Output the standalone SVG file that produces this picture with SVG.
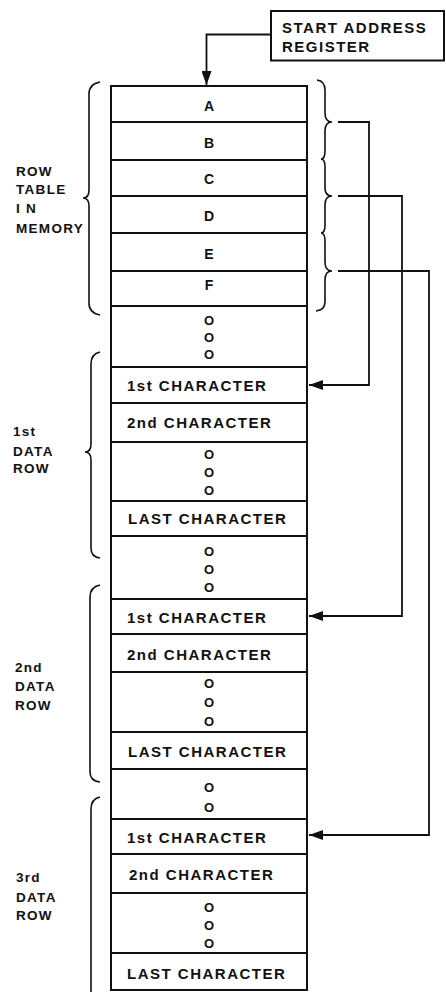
<svg xmlns="http://www.w3.org/2000/svg" width="446" height="992" viewBox="0 0 446 992">
<defs>
<style>
text{font-family:"Liberation Sans",Arial,sans-serif;font-weight:bold;fill:#111}
.cell{font-size:15px;letter-spacing:1.5px}
.mid{font-size:14px;text-anchor:middle}
.dot{font-size:13px;text-anchor:middle}
.lab{font-size:13.5px;letter-spacing:1.3px}
.tbl{fill:#fff;stroke:#111;stroke-width:2}
.sep{stroke:#111;stroke-width:2}
.br{fill:none;stroke:#111;stroke-width:1.6}
.con{fill:none;stroke:#111;stroke-width:1.8}
</style>
<marker id="ah" viewBox="0 0 14 10" refX="14" refY="5" markerWidth="15" markerHeight="10" markerUnits="userSpaceOnUse" orient="auto">
<path d="M0,0 L14,5 L0,10 Z" fill="#111"/>
</marker>
</defs>
<rect width="446" height="992" fill="#fff"/>

<g id="start-register">
<rect x="271" y="11" width="173" height="49.5" fill="#fff" stroke="#111" stroke-width="2"/>
<text class="cell" x="282" y="33">START ADDRESS</text>
<text class="cell" x="282" y="52">REGISTER</text>
</g>

<g id="memory-table">
<rect class="tbl" x="111" y="86" width="196" height="904"/>
<g class="sep">
<line x1="111" y1="122" x2="307" y2="122"/>
<line x1="111" y1="160" x2="307" y2="160"/>
<line x1="111" y1="196" x2="307" y2="196"/>
<line x1="111" y1="233" x2="307" y2="233"/>
<line x1="111" y1="271" x2="307" y2="271"/>
<line x1="111" y1="306" x2="307" y2="306"/>
<line x1="111" y1="367" x2="307" y2="367"/>
<line x1="111" y1="403" x2="307" y2="403"/>
<line x1="111" y1="442" x2="307" y2="442"/>
<line x1="111" y1="501" x2="307" y2="501"/>
<line x1="111" y1="536" x2="307" y2="536"/>
<line x1="111" y1="599" x2="307" y2="599"/>
<line x1="111" y1="634" x2="307" y2="634"/>
<line x1="111" y1="672" x2="307" y2="672"/>
<line x1="111" y1="732" x2="307" y2="732"/>
<line x1="111" y1="769" x2="307" y2="769"/>
<line x1="111" y1="819" x2="307" y2="819"/>
<line x1="111" y1="854" x2="307" y2="854"/>
<line x1="111" y1="893" x2="307" y2="893"/>
<line x1="111" y1="953" x2="307" y2="953"/>
</g>
</g>

<g id="row-table-entries">
<text class="mid" x="209" y="111">A</text>
<text class="mid" x="209" y="148">B</text>
<text class="mid" x="209" y="184">C</text>
<text class="mid" x="209" y="221">D</text>
<text class="mid" x="209" y="259">E</text>
<text class="mid" x="209" y="290">F</text>
<text class="dot" x="209" y="325">O</text>
<text class="dot" x="209" y="342">O</text>
<text class="dot" x="209" y="359">O</text>
</g>

<g id="data-row-1">
<text class="cell" x="127" y="391">1st CHARACTER</text>
<text class="cell" x="127" y="428">2nd CHARACTER</text>
<text class="dot" x="209" y="459">O</text>
<text class="dot" x="209" y="477">O</text>
<text class="dot" x="209" y="495">O</text>
<text class="cell" x="128" y="524">LAST CHARACTER</text>
<text class="dot" x="209" y="556">O</text>
<text class="dot" x="209" y="574">O</text>
<text class="dot" x="209" y="592">O</text>
</g>

<g id="data-row-2">
<text class="cell" x="127" y="623">1st CHARACTER</text>
<text class="cell" x="127" y="660">2nd CHARACTER</text>
<text class="dot" x="209" y="688">O</text>
<text class="dot" x="209" y="707">O</text>
<text class="dot" x="209" y="726">O</text>
<text class="cell" x="128" y="757">LAST CHARACTER</text>
<text class="dot" x="209" y="792">O</text>
<text class="dot" x="209" y="812">O</text>
</g>

<g id="data-row-3">
<text class="cell" x="127" y="843">1st CHARACTER</text>
<text class="cell" x="129" y="880">2nd CHARACTER</text>
<text class="dot" x="209" y="912">O</text>
<text class="dot" x="209" y="930">O</text>
<text class="dot" x="209" y="948">O</text>
<text class="cell" x="127" y="979">LAST CHARACTER</text>
</g>

<g id="label-row-table">
<path class="br" d="M100,82 Q89,84 89,94 V190 Q89,198 83,198 Q89,198 89,206 V303 Q89,313 100,315"/>
<text class="lab" x="16" y="176">ROW</text>
<text class="lab" x="16" y="194">TABLE</text>
<text class="lab" x="16" y="213">I N</text>
<text class="lab" x="16" y="233">MEMORY</text>
</g>

<g id="label-data-row-1">
<path class="br" d="M100,352 Q91,354 91,364 V444 Q91,452 85,452 Q91,452 91,460 V548 Q91,557 100,558"/>
<text class="lab" x="13" y="436">1st</text>
<text class="lab" x="13" y="456">DATA</text>
<text class="lab" x="13" y="473">ROW</text>
</g>

<g id="label-data-row-2">
<path class="br" d="M100,585 Q90,587 90,597 V772 Q90,781 100,782"/>
<text class="lab" x="15" y="672">2nd</text>
<text class="lab" x="15" y="691">DATA</text>
<text class="lab" x="15" y="710">ROW</text>
</g>

<g id="label-data-row-3">
<path class="br" d="M100,797 Q91,799 91,809 V992"/>
<text class="lab" x="16" y="882">3rd</text>
<text class="lab" x="16" y="902">DATA</text>
<text class="lab" x="16" y="920">ROW</text>
</g>

<g id="row-table-brace">
<path class="br" d="M317,80 Q325,81 325,90 V113 Q325,122 332,122 Q325,122 325,131 V151 Q325,159 321,159 Q325,159 325,167 V188 Q325,196 332,196 Q325,196 325,205 V225 Q325,233 321,233 Q325,233 325,241 V262 Q325,271 332,271 Q325,271 325,280 V302 Q325,310 316,311"/>
</g>

<g id="connectors">
<path class="con" d="M271,34.5 H206.5 V85" marker-end="url(#ah)"/>
<path class="con" d="M338,122 H369 V385 H309" marker-end="url(#ah)"/>
<path class="con" d="M338,196 H402 V616 H309" marker-end="url(#ah)"/>
<path class="con" d="M338,271 H429 V835 H309" marker-end="url(#ah)"/>
</g>
</svg>
